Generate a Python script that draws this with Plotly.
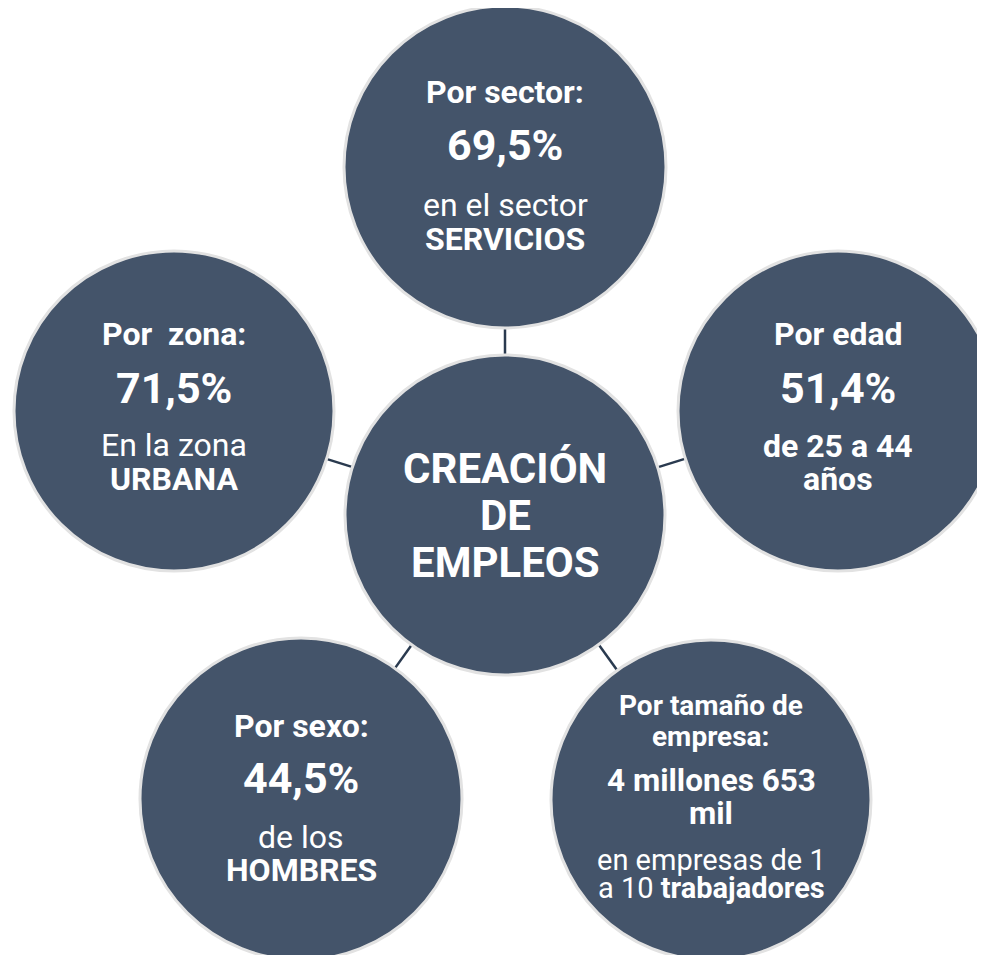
import numpy as np
import plotly.graph_objects as go

# ---- content ----
center_title = ["CREACIÓN", "DE", "EMPLEOS"]
headers = [["Por sector:"], ["Por\u00a0 zona:"], ["Por edad"], ["Por sexo:"], ["Por tamaño de", "empresa:"]]
values = [["69,5%"], ["71,5%"], ["51,4%"], ["44,5%"], ["4 millones 653", "mil"]]
descriptions = [
    ["en el sector", "<b>SERVICIOS</b>"],
    ["En la zona", "<b>URBANA</b>"],
    ["<b>de 25 a 44</b>", "<b>años</b>"],
    ["de los", "<b>HOMBRES</b>"],
    ["en empresas de 1", "a 10 <b>trabajadores</b>"],
]

# ---- layout (pixel coordinates on a 985 x 955 canvas) ----
W, H = 985, 955
OFF = 8  # default page margin of the html body
hub = (505, 515, 160)
nodes = [(505, 167, 161), (174, 411, 160), (838, 411, 160), (301, 799, 161), (711, 800, 160)]
# baselines of every text line, per node: header lines, value lines, description lines
baselines = [
    ([103], [159], [216, 250]),
    ([345], [402], [456, 490]),
    ([345], [402], [457, 490]),
    ([737], [792], [848, 881]),
    ([715, 746], [791, 824], [870, 898]),
]
sizes = [
    (32, 43, 32),
    (32, 43, 32),
    (32, 43, 32),
    (32, 43, 32),
    (28, 31.5, 29),
]
hub_baselines = [482, 529, 576]
hub_size = 42

FILL = "#44546A"
EDGE = "#E2E2E2"
LINK = "#2A3A4F"
FONT = "Roboto"

fig = go.Figure()
shapes = []

# connectors
hx, hy, hr = hub
for (cx, cy, r) in nodes:
    d = np.hypot(cx - hx, cy - hy)
    ux, uy = (cx - hx) / d, (cy - hy) / d
    shapes.append(dict(type="line", xref="x", yref="y",
                       x0=hx + ux * (hr - 2), y0=hy + uy * (hr - 2),
                       x1=hx + ux * (d - r + 2), y1=hy + uy * (d - r + 2),
                       line=dict(color=LINK, width=2.5)))

for (cx, cy, r) in nodes + [hub]:
    shapes.append(dict(type="circle", xref="x", yref="y",
                       x0=cx - r, x1=cx + r, y0=cy - r, y1=cy + r,
                       fillcolor=FILL, line=dict(color=EDGE, width=3)))

annotations = []


def add_line(text, x, baseline, size):
    annotations.append(dict(x=x, y=baseline - 0.33 * size, xref="x", yref="y",
                            text=text, showarrow=False, xanchor="center", yanchor="middle",
                            font=dict(family=FONT, size=size, color="white")))


for i, (cx, cy, r) in enumerate(nodes):
    hb, vb, db = baselines[i]
    hs, vs, ds = sizes[i]
    for t, b in zip(headers[i], hb):
        add_line(f"<b>{t}</b>", cx, b, hs)
    for t, b in zip(values[i], vb):
        add_line(f"<b>{t}</b>", cx, b, vs)
    for t, b in zip(descriptions[i], db):
        add_line(t, cx, b, ds)

for t, b in zip(center_title, hub_baselines):
    add_line(f"<b>{t}</b>", hx, b, hub_size)

fig.update_layout(
    width=W - OFF, height=H - OFF,
    margin=dict(l=0, r=0, t=0, b=0),
    paper_bgcolor="white", plot_bgcolor="white",
    xaxis=dict(range=[OFF, W], visible=False, fixedrange=True),
    yaxis=dict(range=[H, OFF], visible=False, fixedrange=True),
    shapes=shapes, annotations=annotations, showlegend=False,
)

fig.write_html("out.html", config={"displayModeBar": False})
